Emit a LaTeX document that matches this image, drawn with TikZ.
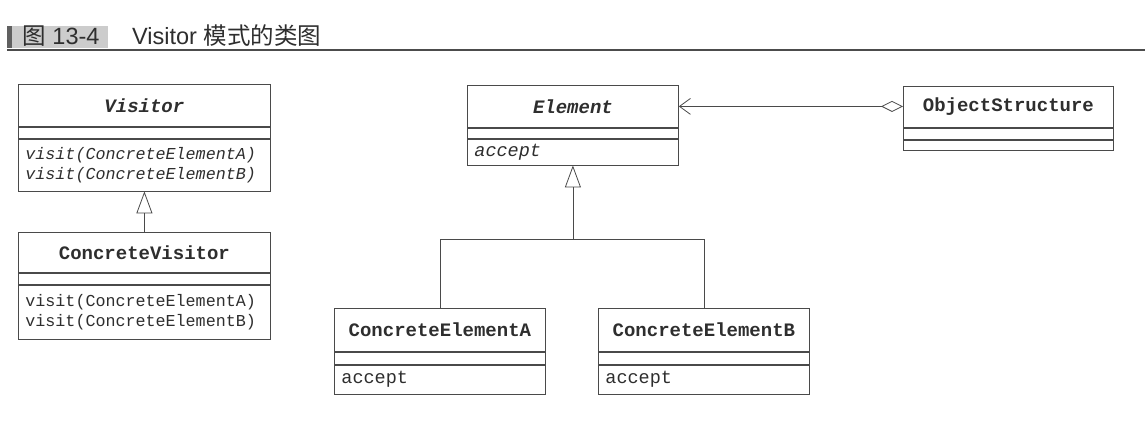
\documentclass[tikz,border=0pt]{standalone}
\usepackage{fontspec}
\setmonofont{Liberation Mono}
\setsansfont{Liberation Sans}
\newfontfamily\cjkfont{Noto Sans CJK SC}
\usetikzlibrary{positioning, arrows.meta}
\definecolor{linec}{HTML}{4A4A4A}
\definecolor{textc}{HTML}{2E2E2E}
\newcommand{\clsnamefont}{\ttfamily\bfseries\fontsize{19}{22}\selectfont}
\newcommand{\clsopsfont}{\ttfamily\fontsize{18.5}{20}\selectfont}
\newcommand{\visitfont}{\ttfamily\fontsize{16.7}{20}\selectfont}
\newcommand{\titlefont}{\sffamily\fontsize{23.5}{26}\selectfont}

\tikzset{
  clsname/.style={draw=linec, line width=0.8pt, minimum width=#1, minimum height=42pt, inner sep=0pt, font=\clsnamefont, text=textc},
  clsattr/.style={draw=linec, line width=0.8pt, minimum width=#1, minimum height=11pt, inner sep=0pt},
  clsops/.style={draw=linec, line width=0.8pt, text width=#1, inner xsep=7pt, inner ysep=0pt, align=left, font=\clsopsfont, text=textc},
  inherit/.style={draw=linec, line width=0.8pt, -{Triangle[open, length=22pt, width=16pt]}},
}

\begin{document}
\begin{tikzpicture}[x=1pt, y=-1pt]
	\useasboundingbox (0,0) rectangle (1145,425);
	% heading
	\fill[gray!75!black] (7,26) rectangle (12,48);
	\fill[gray!40] (12,26) rectangle (108,48);
	\draw[gray!60!black, line width=1.2pt] (7,50) -- (1145,50);
	\node[anchor=base, font=\titlefont, text=textc, inner sep=0pt] (figno) at (61,45) {{\cjkfont 图} 13-4};
	\node[anchor=base west, font=\titlefont, text=textc, inner sep=0pt] (title) at (132,45) {Visitor {\cjkfont 模式的类图}};

	% Visitor
	\node[clsname=252pt, anchor=north west] (visitor) at (18,84) {\textit{Visitor}};
	\node[clsattr=252pt, below=0pt of visitor] (visitorattr) {};
	\node[clsops=238pt, minimum height=52pt, font=\visitfont, below=0pt of visitorattr] (visitorops) {\textit{visit(ConcreteElementA)}\\\textit{visit(ConcreteElementB)}};

	\node[clsname=252pt, minimum height=40pt, anchor=north west] (cvisitor) at (18,232) {ConcreteVisitor};
	\node[clsattr=252pt, below=0pt of cvisitor] (cvisitorattr) {};
	\node[clsops=238pt, minimum height=54pt, font=\visitfont, below=0pt of cvisitorattr] (cvisitorops) {visit(ConcreteElementA)\\visit(ConcreteElementB)};

	% Element
	\node[clsname=211pt, anchor=north west] (element) at (467,85) {\textit{Element}};
	\node[clsattr=211pt, minimum height=10pt, below=0pt of element] (elementattr) {};
	\node[clsops=197pt, minimum height=26pt, below=0pt of elementattr] (elementops) {\textit{accept}};

	\node[clsname=210pt, minimum height=41pt, anchor=north west] (objstruct) at (903,86) {ObjectStructure};
	\node[clsattr=210pt, below=0pt of objstruct] (objstructattr) {};
	\node[clsops=196pt, minimum height=10pt, below=0pt of objstructattr] (objstructops) {};

	\node[clsname=211pt, minimum height=43pt, anchor=north west] (cea) at (334,308) {ConcreteElementA};
	\node[clsattr=211pt, minimum height=12pt, below=0pt of cea] (ceaattr) {};
	\node[clsops=197pt, minimum height=29pt, below=0pt of ceaattr] (ceaops) {accept};

	\node[clsname=211pt, minimum height=43pt, anchor=north west] (ceb) at (598,308) {ConcreteElementB};
	\node[clsattr=211pt, minimum height=12pt, below=0pt of ceb] (cebattr) {};
	\node[clsops=197pt, minimum height=29pt, below=0pt of cebattr] (cebops) {accept};

	% relations
	\draw[inherit] (cvisitor.north) -- (visitorops.south);
	\coordinate[below=74pt of elementops.south] (fork);
	\draw[linec, line width=0.8pt] (cea.north) |- (fork) -| (ceb.north);
	\draw[inherit] (fork) -- (elementops.south);
	\draw[linec, line width=0.8pt, {Straight Barb[length=11pt, width=16pt]}-{Diamond[open, length=22pt, width=11pt]}] (element.east) -- (element.east -| objstruct.west);
\end{tikzpicture}
\end{document}
